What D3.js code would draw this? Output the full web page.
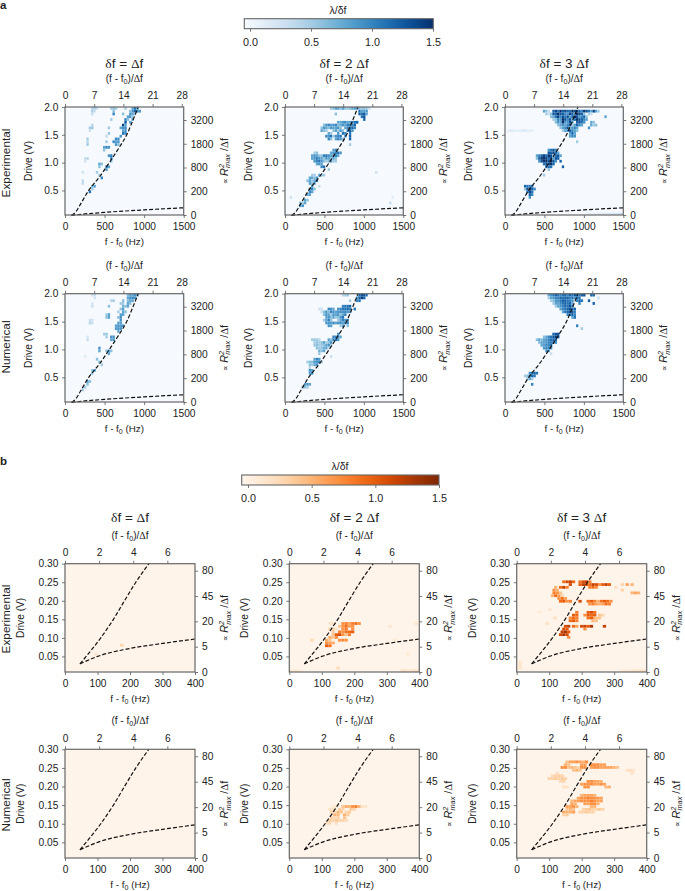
<!DOCTYPE html>
<html><head><meta charset="utf-8">
<script src="https://cdn.jsdelivr.net/npm/d3@7"></script>
<style>
html,body{margin:0;padding:0;background:#fff}
svg{display:block}
text{font-family:"Liberation Sans",Arial,sans-serif;fill:#222}
</style></head><body><div id="c"></div>
<script>
// Each row: [drive (lower edge), first frequency (Hz), lambda/deltaf values in consecutive bins]
const a1Exp=[
[1.95,330,[.4,.5,.3]],[1.95,570,[.5,.6,.5]],[1.95,750,[.5]],[1.95,840,[.8,1.1,.8]],
[1.9,330,[.5,.3]],[1.9,600,[.6]],[1.9,810,[.6,.9,1.2,1,.9]],
[1.85,330,[.35]],[1.85,600,[1]],[1.85,720,[.6]],[1.85,810,[.9,.8,.5]],
[1.8,780,[.8,.9,.5]],[1.75,570,[.5]],[1.75,750,[1,.6]],[1.75,840,[.8]],
[1.7,750,[1.3]],[1.7,810,[.8]],[1.65,330,[.4]],[1.65,720,[1.4,.8]],
[1.6,300,[.5,.55]],[1.6,540,[.5]],[1.6,690,[.8,.9,1]],[1.55,300,[.3]],[1.55,720,[.8,.9]],
[1.5,540,[.55]],[1.5,720,[1.1,1]],[1.45,510,[.35]],[1.45,690,[.9]],
[1.4,270,[.5]],[1.4,630,[1,.9]],[1.35,270,[.4]],[1.35,510,[.5]],[1.35,600,[1,.8,.9]],
[1.3,270,[.5]],[1.3,630,[.9,.6]],[1.25,480,[.8,1,.9]],[1.2,480,[.6]],
[1.1,540,[.9,1]],[1.05,240,[.3,.4]],[1.05,570,[1]],[1.0,240,[.25]],[1,570,[.6]],
[.95,420,[.8,.6]],[.9,420,[.6]],[.9,510,[1.1,.8]],[.85,510,[.8]],[.8,210,[.25]],[.8,390,[.5]],[.75,420,[.5]],
[.7,450,[1]],[.65,210,[.35]],[.6,210,[.35]],[.55,330,[.7,.8]],[.5,330,[.5]],[.45,300,[1.1]]];
const a2Exp=[
[1.95,570,[.5,.6,.8,.8,.6,.8,.6,.5,.6,.8,.8,.8,.6,.5,.6,.5,.3]],
[1.9,930,[1.1,.8,.8,.9]],[1.85,630,[.6]],[1.85,930,[1.2,1.1,1.3,.8]],[1.8,960,[1.1,1.3]],[1.75,990,[1.2]],
[1.7,660,[.8,.8,.9,1,.8,.8,1,1.1,1.2]],
[1.65,480,[.6,.9,1,.8,.9,1,.6,.8,.9,.8,1.1,1,1,1.2]],
[1.6,450,[.6,.9,.8,.6,.9,.8,.8,.9,.6,0,.8,1,1.1,1.2,1]],
[1.55,450,[.8,.6,.5]],[1.55,600,[.6,.8,.5,.9,.6,0,1,1.2,.9]],
[1.5,540,[.8,.5]],[1.5,660,[.9,0,1.1]],[1.5,750,[1]],[1.5,810,[1.1]],
[1.45,510,[1,.9,1.1,.5,.9,1,1.1,0,.9]],[1.45,810,[1.2]],
[1.4,540,[1,.6]],[1.4,630,[.8,1,.9,.6]],[1.4,810,[1.2]],[1.3,810,[.5]],
[1.2,600,[.8,1]],[1.15,570,[.8,.9,1,1.1,.9]],[1.15,360,[.5,.6]],
[1.1,330,[.8,.9,.8,.6,.6,1,1.1,.9,.8,.9,1,.8]],
[1.05,330,[.8,.9,1,.9,.8,.6,.9,.8,.6,.8,.6]],[1.0,360,[.9,1,1.1,.9,.6,.5,.6,.8,.5,.5]],
[.95,390,[.8,.9,.8]],[.9,450,[1,1.1]],[.85,540,[.5]],[.8,1140,[.25]],
[.75,330,[.5,.5]],[.75,420,[.8,.6,.5]],[.7,300,[.8,.8,.6,.9]],[.65,270,[.6,.8,.5,.8,1]],
[.6,300,[.8,.6,.8]],[.55,330,[.9]],[.55,420,[.3]],[.5,300,[.8,1,.6]],[.45,300,[1,.8]],
[.4,270,[.8,.8]],[.35,60,[.25]],[.35,1350,[.15]],[.3,240,[.8,.6]],[.25,180,[.6,.5,.8]],[.2,180,[.8,.9]],[.25,1320,[.3]]];
const a3Exp=[
[1.9,480,[.8,.6,.3,0,1.2,1.4,1.1,1.5,1.2,1.4,1.2,1.1,1.5,1.3,1.4,1.2,1,1.5,1.3,1.1,.8,1.4,.8,.5]],
[1.85,510,[.5,.3,.6,1.3,1.2,1.5,1.3,1.2,1,.9,1.4,1.2,.8,1.5,1.4,1.2,.6,0,.5,.3]],
[1.8,570,[.6,.8,1.1,1.4,1,1.3,1.1,1.3,.8,1.2,1.5,1.3,.9,1,1.2,.6]],[1.8,1260,[.8]],
[1.75,600,[.5,.6,1,.9,1.5,1.3,1,1.3,.8,1.1,1.5,1.3,1.2,1,.8]],
[1.7,630,[.6,.9,.8,1.5,.9,.9,1.3,.8,0,1.2,1.3,1.1,.9,0,0,.8,.6]],
[1.65,660,[.6,.8,.9,.8,1,1.3,.5,.8,1.2,1,.8]],[1.65,1080,[.8,.5,.6]],
[1.6,690,[.6,.8,1,1.3,.6,.9,1,.8]],[1.6,1050,[.9]],[1.55,720,[.5,.8,.9,1.2,1,.8,.6]],
[1.5,810,[.8,1.2,.8]],[1.45,810,[.8,1,.9]],[1.35,900,[.5]],
[1.55,30,[.12,.15,.15,.1,.09,.12,.18,.15,.12,.1,.08]],
[1.2,540,[.9,1.1,1.3,1]],[1.15,540,[1.3,1.2,1.4,1.1,.8]],[1.1,390,[.8,1,1.2,1.4,1.2,1.5,1.3,.6,1.1,1.3,.8]],
[1.05,390,[.6,1.2,1.5,1.5,1.4,1.2,1.4,.8,1.3,1.2]],[1.0,420,[.9,1.3,1.5,1.5,1.3,1.5,1.3,.9]],[1.0,690,[1.2]],
[.95,480,[1.1,1.3,1.4,1.5,1.2]],[.9,510,[1.2,1.1,1.1]],[.9,720,[1.2]],[.85,540,[.6]],[.75,480,[.5]],
[.55,240,[1.2,1.1,1,1.1]],[.5,240,[.6,1.3,1.4,1.2,1]],[.45,270,[1.1,1.4,1.1]],[.4,300,[1.2,1]],[.35,300,[.9]],
[.05,1020,[.06,.08,.08,.1,.1,.12,.12,.14,.14,.16,.18,.2,.2,.22,.24,.25]]];
const a1Num=[
[1.95,330,[.25,.3]],[1.95,780,[.6,.8,.8,.9,.8]],[1.9,360,[.25]],[1.9,780,[.8,.9,1,.9]],[1.85,570,[.4,.5]],[1.85,720,[.6]],[1.85,780,[.6,.8,.8]],
[1.8,330,[.2]],[1.8,690,[.5,.5]],[1.8,780,[.8,.6]],[1.75,330,[.3]],[1.75,540,[.6]],[1.75,720,[.7,.6,.8]],
[1.7,690,[.55,.8]],[1.65,660,[.5]],[1.65,720,[.8,.6]],[1.6,510,[.5,.8]],[1.6,690,[.8,.8]],
[1.55,510,[.6,.8]],[1.55,660,[.6,.9]],[1.5,300,[.3,.25]],[1.5,690,[.9]],[1.45,300,[.4,.3]],[1.45,660,[.8,.8]],
[1.4,630,[.8,.9,.85,.9]],[1.35,630,[.85,.9,.9]],[1.3,660,[.8]],[1.25,480,[.5,.55]],
[1.2,270,[.2]],[1.2,510,[.5]],[1.2,570,[.9,.9]],[1.15,270,[.3]],[1.15,570,[.8,.9]],
[1,420,[.9]],[.95,420,[.8]],[.95,510,[.6,.8,.6]],[.9,540,[.8]],[.85,240,[.15]],
[.8,390,[.6]],[.75,420,[.6]],[.7,450,[.5]],[.6,330,[.55,.8]],[.55,330,[.6]],[.4,270,[.8,.6]],[.35,270,[.6]],[.3,240,[.5]],[.25,210,[.5]]];
const a2Num=[
[1.95,720,[.4,.5,.55]],[1.95,930,[1.2,1.3,1.3,1.1]],[1.9,900,[.9,1.2,1.4,1.2]],[1.85,900,[1,1.1]],[1.85,810,[.5]],
[1.75,720,[1,1.1,1.1,1.2]],[1.7,420,[.25,.3]],[1.7,540,[1,.9,.8]],[1.7,660,[.9,1,1.1,1.1,1.2,1]],[1.7,870,[1.1]],
[1.65,450,[.3,.6,.9,.6,1,.9,.8,.9,1,.9,1,.9,.8]],[1.6,480,[.6,.9,.8,.5,.9,.8,.9,.6,.8,1]],
[1.55,510,[.8,.9,.6,.8,.5,.6,.9,1.1]],[1.5,480,[.5,.8,1,.6,0,0,.5,.8,1,.9,1]],
[1.45,510,[.9,.9,.8,1,.8,.9,1,.8,1,1]],[1.4,540,[.9,.8]],[1.4,690,[.5,.8]],[1.4,780,[.6]],
[1.25,660,[.9]],[1.2,600,[1,1,.9,.8]],[1.15,330,[.5,.55,.5,.4]],[1.15,540,[.8,.6,1,1.1,.9]],
[1.1,360,[.5,.55,.5,.6,.8,.5,.6,.9]],[1.05,360,[.55,.6,.5,.55,.6,.8,.9,.5]],[1,390,[.6,.5,.6,.7,.8,.3]],
[.95,420,[.7,.6,.8]],[.9,420,[.55]],[.85,570,[.3]],
[.8,360,[.8,1,.9]],[.75,270,[.5,.6,.6,.9,.9,1,.5]],[.7,300,[.6,.5,.8,.9]],[.65,300,[.4]],
[.6,300,[.9,.8]],[.55,300,[.8,1]],[.35,240,[.8,.9,.8]],[.3,210,[.6,.6,.5]]];
const a3Num=[
[1.95,540,[.8,.9,1.1,1.2,1.1,1,1.1,1.2,1,1.2,1.1,1.3,1.2,1.1,1.2,1.3]],[1.95,1080,[1.2,1.2]],
[1.9,540,[.5,.8,.9,1,1,1.2,1.1,1.2,1.2,1,1.1,.9,1.2,1.1]],[1.9,1170,[.3]],
[1.85,570,[.5,.6,.9,.9,1.1,1.2,1.2,1.1,1,.9]],[1.85,900,[1,1.2,1.1]],[1.85,1050,[1.2]],
[1.8,600,[.5,.8,.8,1,1.1,1.2,1.1,1.2,.8]],[1.8,930,[1]],[1.8,1110,[1.2]],
[1.75,630,[.5,.8,.9,1,1.2,1.1,1.3,1]],[1.7,690,[.8,1,1.1,1.2,1.3,1.1,1.2]],[1.65,720,[.8,1.1,1.2,1.3,1.3,1]],
[1.6,780,[1,1.1,1.2,1]],[1.55,840,[.8,1.1]],[1.4,900,[1]],[1.35,960,[.5]],
[1.25,600,[1.2,1.3,1.3]],[1.2,480,[.6,.8,1,1.1,1.3,1.4,1.3]],[1.15,390,[.6,.8,.6,.8,.9,1,1.1,1.2,1.2]],
[1.1,420,[.6,.8,.8,.9,1,1,1.1,.9]],[1.05,450,[.8,.8,1,1,1.1]],[1,480,[.9,1,1,.9]],[.95,510,[.9,.8]],[.9,570,[.3]],
[.55,300,[.9,1.1,1.2,1.1]],[.5,240,[.5,.6,.9,1.2,1.1]],[.45,270,[.5,.8,.5]],[.35,330,[1]]];
const b1Exp=[[.0525,90,[.15]],[.0765,170,[.3]]];
const b2Exp=[
[.135,120,[.15,.2]],[.135,160,[.7,.8,.6,.8,.9,.7]],
[.1275,150,[.4,.7,.9,.6,.7]],[.12,120,[.3,.3,.15,0,.7,.8]],[.12,190,[.7]],
[.1125,130,[.35]],[.1125,150,[.8,.7,.9]],[.1125,180,[.9,1]],[.105,130,[.4]],[.105,140,[1,1.1,.7,.4,.8]],
[.0975,120,[.55,.4,.7]],[.09,110,[.55,.4]],[.09,150,[.7,.75,.7]],[.0825,110,[.7,.6,.55]],[.075,110,[1,.9]],
[.09,65,[.25]],[.1275,305,[.12]],[.135,385,[.15]],[.09,320,[.12]],[.0525,360,[.12]],[.015,145,[.25]],
[.0075,0,[.1,.1,.1,.06]],[.0075,340,[.12,.18,.15,.15,.18,.18]]];
const b3Exp=[
[.2475,140,[.9,1.1,1.2,.9]],[.2475,190,[.9,1.1,1.2,.8]],[.24,160,[1.1]],[.24,190,[1,1.2,1.1,.9,1.2,1.1,.7,1,1.2,1]],
[.2325,130,[.9,1.2,.8]],[.2325,220,[.8,.9,.7]],[.24,320,[.3]],[.24,335,[.6]],[.24,350,[.5]],
[.2175,350,[.5,.6,.5]],[.225,320,[.3]],[.2325,300,[.2]],
[.2325,115,[.5]],[.225,110,[.7,.5]],[.2175,110,[.8,.7,.4]],[.21,105,[.5,.9,.6,.3]],[.2025,125,[.7,.9]],[.2025,145,[.6]],
[.195,130,[.9,1,.7,.8]],[.195,190,[1.1]],[.195,215,[.9,1,.8,.5,.9,1,.9,.7]],[.1875,220,[.7,.8,.6,.5,.6,.9,.8]],
[.165,180,[.8]],[.165,215,[1,1.1,.9]],[.1575,170,[1,.9]],[.1575,205,[.7,1,.9,1]],[.1575,250,[.4,.3]],
[.15,160,[.7,.9,.8]],[.15,215,[.9,1,.6]],[.15,240,[.4,.4]],[.1425,160,[.9,1,.8]],[.1425,230,[.5,.4]],
[.1275,145,[1.1,1.2]],[.1275,170,[.9,.6]],[.1275,195,[1.1,1.2,1,1.3]],[.1275,265,[1.2]],[.12,140,[1.1,1]],[.12,205,[.7]],
[.1125,135,[1.2,1.3,1]],[.105,130,[1.1,1.3,1.1]],[.0975,155,[.7]],
[.165,65,[.1]],[.1725,97,[.15]],[.135,89,[.2]],[.15,113,[.2]],
[.03,5,[.15]],[.0225,5,[.15]],[.015,5,[.15]],[.0075,320,[.08,.08,.1,.12,.15,.15,.18,.2]]];
const b1Num=[];
const b2Num=[
[.1425,130,[.1,.12]],[.1425,160,[.4,.55,.5]],[.1425,190,[.7,.8,.5,.15,.15]],
[.135,120,[.2,.2]],[.135,150,[.35,.3]],[.135,185,[.35,.3]],
[.1275,125,[.3,.25]],[.1275,145,[.5,.4]],[.1275,170,[.3,.35]],
[.12,135,[.5,.45]],[.12,165,[.5,.35]],[.1125,125,[.3,.25,.3]],[.1125,165,[.4]],
[.105,120,[.35,.3,.35,.3]],[.105,160,[.3,.25]],[.0975,110,[.2,.25]],[.0975,140,[.2]]];
const b3Num=[
[.2625,150,[.4,.6,.6,.7,.6,.5,.7]],[.255,145,[.5,.4]],[.255,195,[.6,.6]],[.255,225,[.7,.7,.7,.6,.6]],
[.2475,135,[.7,.7,.4,.5,.4,.3,.7,.7]],[.2475,225,[.6,.7,.7,.6,.6,.6,.6,.5,.4]],
[.24,170,[.4,.5,.4]],[.24,335,[.2,.2,.15]],[.2325,350,[.2]],
[.2325,120,[.2]],[.225,105,[.25,.3,.35,.3]],[.2175,95,[.3,.3,.35,.3,.35,.3]],[.21,130,[.25,.3]],
[.21,215,[.7,.7,.6,.6,.5]],[.2025,195,[.6,.7,.7,.7,.6,.6,.7,.6]],[.195,140,[.2,.2]],[.195,205,[.7,.7]],[.195,270,[.5,.5]],
[.1725,195,[.5,.6,.6,.6,.5]],[.165,185,[.6,.7,.7,.8,.7,.7,.7,.6]],[.1575,165,[.5,.6,.6,.7,.7,.7,.8,.7,.6,.6]],
[.15,165,[.6,.5]],[.15,205,[.6,.6,.7,.7,.5]],[.1425,150,[.6,.6,.7,.5]],[.1425,225,[.5,.5]],
[.135,150,[.4,.5,.4]],[.135,200,[.3,.35,.4,.3,.3,.35,.3]],[.1275,140,[.6,.5,.5,.6]],[.1275,190,[.3,.3,.35,.3,.3]],[.12,140,[.3,.35]]];
const tickA=[0,500,1000,1500], tickATop=[0,7,14,21,28], driveA=[.5,1,1.5,2], rightA=[0,200,800,1800,3200];
const tickB=[0,100,200,300,400], tickBTop=[0,2,4,6], driveB=[.05,.1,.15,.2,.25,.3], rightB=[0,5,20,45,80];
const curveAUp=[[85,.05],[140,.12],[195,.25],[300,.5],[440,.75],[560,1],[675,1.25],[780,1.5],[855,1.75],[925,2]];
const curveALow=[[80,.05],[200,.07],[500,.105],[1000,.15],[1500,.188]];
const curveBUp=[[46,.03],[65,.05],[110,.1],[149,.15],[183,.2],[218,.25],[258,.3]];
const curveBLow=[[46,.03],[100,.05],[200,.0715],[300,.085],[400,.097]];
const cbTicks=[0,.5,1,1.5];

const svg=d3.select('#c').append('svg').attr('width',685).attr('height',891);
const colA=d3.scaleSequential(d3.interpolateBlues).domain([-.05,1.5]);
const colB=d3.scaleSequential(d3.interpolateOranges).domain([-.05,1.5]);
const fmt1=d3.format('.1f'), fmt2=d3.format('.2f');

function mathLabel(g,x,y,size){
  const t=g.append('text').attr('x',x).attr('y',y).attr('text-anchor','middle').attr('font-size',size);
  t.append('tspan').text('(f - f');
  t.append('tspan').attr('dy',2).attr('font-size',size*.72).text('0');
  t.append('tspan').attr('dy',-2).text(')/');
  t.append('tspan').attr('font-family','Liberation Serif').text('Δ');
  t.append('tspan').text('f');
}
function xLabel(g,x,y,size){
  const t=g.append('text').attr('x',x).attr('y',y).attr('text-anchor','middle').attr('font-size',size);
  t.append('tspan').text('f - f');
  t.append('tspan').attr('dy',2).attr('font-size',size*.72).text('0');
  t.append('tspan').attr('dy',-2).text(' (Hz)');
}
function rightLabel(g,x,y){
  const t=g.append('text').attr('transform',`translate(${x},${y}) rotate(-90)`).attr('text-anchor','middle').attr('font-size',10.8);
  t.append('tspan').attr('font-size',7.5).text('∝ ');
  t.append('tspan').attr('font-style','italic').text('R');
  t.append('tspan').attr('dy',-4).attr('font-size',7.4).attr('font-style','italic').text('2');
  t.append('tspan').attr('dy',6.5).attr('dx',-4).attr('font-size',7.4).attr('font-style','italic').text('max');
  t.append('tspan').attr('dy',-2.5).text(' /');
  t.append('tspan').attr('font-family','Liberation Serif').text('Δ');
  t.append('tspan').text('f');
}
function title(g,x,y,mult){
  const t=g.append('text').attr('x',x).attr('y',y).attr('text-anchor','middle').attr('font-size',13.5);
  t.append('tspan').attr('font-family','Liberation Serif').text('δ');
  t.append('tspan').text('f = '+mult);
  t.append('tspan').attr('font-family','Liberation Serif').text('Δ');
  t.append('tspan').text('f');
}
function panel(cfg){
  const {x0,x1,y0,y1,rows,color,xDom,yDom,df,dv,xTicks,topTicks,topDom,yTicks,yFmt,rTicks,rDom,rTop,up,low,ylx,rlx}=cfg;
  const x=d3.scaleLinear().domain(xDom).range([x0,x1]);
  const y=d3.scaleLinear().domain(yDom).range([y1,y0]);
  const top=d3.scaleLinear().domain(topDom).range([x0,x1]);
  const right=d3.scaleSqrt().domain(rDom).range([y1,rTop]);
  const g=svg.append('g');
  g.append('rect').attr('x',x0).attr('y',y0).attr('width',x1-x0).attr('height',y1-y0).attr('fill',color(-.04));
  const cells=rows.flatMap(([v,f,vals])=>vals.map((l,i)=>({v,f:f+i*df,l}))).filter(d=>d.l>0);
  const clipId='c'+Math.round(x0)+'_'+Math.round(y0);
  g.append('clipPath').attr('id',clipId).append('rect').attr('x',x0).attr('y',y0).attr('width',x1-x0).attr('height',y1-y0);
  g.append('g').attr('clip-path',`url(#${clipId})`).append('g').style('filter','blur(0.3px)').selectAll('rect').data(cells).join('rect')
    .attr('x',d=>x(d.f)).attr('width',d=>x(d.f+df)-x(d.f))
    .attr('y',d=>y(d.v+dv)).attr('height',d=>y(d.v)-y(d.v+dv)).attr('fill',d=>color(d.l));
  const line=d3.line().x(d=>x(d[0])).y(d=>y(d[1])).curve(d3.curveMonotoneX);
  [up,low].forEach(c=>g.append('path').attr('d',line(c)).attr('fill','none').attr('stroke','#111').attr('stroke-width',1.2).attr('stroke-dasharray','4,2'));
  const style=a=>{a.selectAll('.domain').remove();a.selectAll('line').attr('stroke','#555').attr('stroke-width',.8);a.selectAll('text').attr('font-size',10.2).attr('fill','#222');};
  g.append('g').attr('transform',`translate(0,${y1})`).call(d3.axisBottom(x).tickValues(xTicks).tickFormat(d3.format('d')).tickSize(3).tickPadding(4.8)).call(style);
  g.append('g').attr('transform',`translate(0,${y0})`).call(d3.axisTop(top).tickValues(topTicks).tickFormat(d3.format('d')).tickSize(3).tickPadding(4.7)).call(style);
  g.append('g').attr('transform',`translate(${x0},0)`).call(d3.axisLeft(y).tickValues(yTicks).tickFormat(yFmt).tickSize(3).tickPadding(3.7)).call(style);
  g.append('g').attr('transform',`translate(${x1},0)`).call(d3.axisRight(right).tickValues(rTicks).tickFormat(d3.format('d')).tickSize(3).tickPadding(4)).call(style);
  g.append('rect').attr('x',x0).attr('y',y0).attr('width',x1-x0).attr('height',y1-y0).attr('fill','none').attr('stroke','#666').attr('stroke-width',1.2);
  g.append('text').attr('transform',`translate(${x0-ylx},${(y0+y1)/2}) rotate(-90)`).attr('text-anchor','middle').attr('font-size',10.2).text('Drive (V)');
  rightLabel(g,x1+rlx,(y0+y1)/2);
  const cx=(x0+x1)/2;
  mathLabel(g,cx,y0-25,10);
  xLabel(g,cx,y1+cfg.xl,9.8);
  return cx;
}
function colorbar(x0,x1,y0,y1,color,zeroX,onePtFiveX,id,labelX,labelY){
  const s=d3.scaleLinear().domain([0,1.5]).range([zeroX,onePtFiveX]);
  const lg=svg.append('defs').append('linearGradient').attr('id',id);
  const lo=s.invert(x0);
  d3.range(0,21).forEach(i=>{const v=lo+(1.5-lo)*i/20;lg.append('stop').attr('offset',(i*5)+'%').attr('stop-color',color(v));});
  svg.append('rect').attr('x',x0).attr('y',y0).attr('width',x1-x0).attr('height',y1-y0).attr('fill',`url(#${id})`).attr('stroke','#666').attr('stroke-width',1.1);
  const ax=svg.append('g').attr('transform',`translate(0,${y1})`).call(d3.axisBottom(s).tickValues(cbTicks).tickFormat(fmt1).tickSize(3).tickPadding(6.5));
  ax.selectAll('.domain').remove();ax.selectAll('line').attr('stroke','#555').attr('stroke-width',.8);ax.selectAll('text').attr('font-size',10.8).attr('fill','#222');
  const t=svg.append('text').attr('x',labelX).attr('y',labelY).attr('text-anchor','middle').attr('font-size',10.5).attr('font-family','Liberation Serif');
  t.append('tspan').text('λ/δ');t.append('tspan').attr('font-family','Liberation Sans').text('f');
}
colorbar(244.3,433.3,18.7,28.7,colA,250,433,'ga',338,14);
colorbar(241.7,439,475,485,colB,248,439,'gb',340,470);

const colsA=[[65,183.7],[285,403.3],[505,623.3]], colsB=[[65,195],[289.3,419.3],[516.7,646.7]];
const rowsA=[[107,215,[a1Exp,a2Exp,a3Exp]],[293.7,402,[a1Num,a2Num,a3Num]]];
const rowsB=[[563.7,672,[b1Exp,b2Exp,b3Exp]],[749.3,858,[b1Num,b2Num,b3Num]]];
const mults=['','2 ','3 '];
rowsA.forEach(([y0,y1,ds],r)=>colsA.forEach(([x0,x1],i)=>{
  const cx=panel({x0,x1,y0,y1,rows:ds[i],color:colA,xDom:[0,1500],yDom:[.058,2],df:30,dv:.05,xTicks:tickA,topTicks:tickATop,topDom:[0,28.46],yTicks:driveA,yFmt:fmt1,rTicks:rightA,rDom:[0,3200],rTop:y0+13,up:curveAUp,low:curveALow,ylx:33,rlx:44,xl:30});
  if(r===0) title(svg,cx,68,mults[i]);
}));
rowsB.forEach(([y0,y1,ds],r)=>colsB.forEach(([x0,x1],i)=>{
  const cx=panel({x0,x1,y0,y1,rows:ds[i],color:colB,xDom:[0,400],yDom:[.008,.3],df:10,dv:.0075,xTicks:tickB,topTicks:tickBTop,topDom:[0,7.62],yTicks:driveB,yFmt:fmt2,rTicks:rightB,rDom:[0,80],rTop:y0+7,up:curveBUp,low:curveBLow,ylx:41,rlx:33,xl:30});
  if(r===0) title(svg,cx,522,mults[i]);
}));
[['Experimental',163],['Numerical',347],['Experimental',619],['Numerical',805]].forEach(([s,y])=>{
  svg.append('text').attr('transform',`translate(10,${y}) rotate(-90)`).attr('text-anchor','middle').attr('font-size',11.8).text(s);
});
svg.append('text').attr('x',0).attr('y',9).attr('font-size',11.5).attr('font-weight','bold').attr('fill','#000').text('a');
svg.append('text').attr('x',0).attr('y',465).attr('font-size',11.5).attr('font-weight','bold').attr('fill','#000').text('b');
</script></body></html>
